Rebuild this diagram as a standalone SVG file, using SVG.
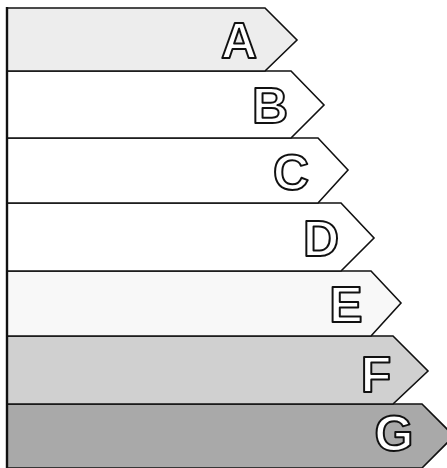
<svg xmlns="http://www.w3.org/2000/svg" width="447" height="468" viewBox="0 0 447 468">
<style>
.bar{stroke:#111;stroke-width:1.6;stroke-linejoin:miter}
.lbl{font-family:"Liberation Sans",Arial,sans-serif;font-weight:bold;font-size:50px;fill:#fff;stroke:#111;stroke-width:2;stroke-linejoin:round;text-anchor:middle}
</style>
<rect width="447" height="468" fill="#fff"/>
<g id="bar-G"><polygon class="bar" fill="#a9a9a9" points="7,404 422,404 454,436 422,468 7,468"/><text class="lbl" x="394" y="451">G</text></g>
<g id="bar-F"><polygon class="bar" fill="#d0d0d0" points="7,336 393,336 428,371 393,404 7,404"/><text class="lbl" x="376" y="392">F</text></g>
<g id="bar-E"><polygon class="bar" fill="#f8f8f8" points="7,271 371,271 401,303 371,336 7,336"/><text class="lbl" x="346" y="322">E</text></g>
<g id="bar-D"><polygon class="bar" fill="#fff" points="7,203 341,203 374,238 341,271 7,271"/><text class="lbl" x="321" y="256">D</text></g>
<g id="bar-C"><polygon class="bar" fill="#fff" points="7,138 318,138 348,170 318,203 7,203"/><text class="lbl" x="291" y="190">C</text></g>
<g id="bar-B"><polygon class="bar" fill="#fff" points="7,71 291,71 324,105 291,138 7,138"/><text class="lbl" x="270" y="123">B</text></g>
<g id="bar-A"><polygon class="bar" fill="#ededed" points="7,8 265,8 297,40 265,71 7,71"/><text class="lbl" x="239" y="58">A</text></g>
<g id="connectors"><line x1="7" y1="7" x2="7" y2="468" stroke="#111" stroke-width="2.4"/></g>
</svg>
